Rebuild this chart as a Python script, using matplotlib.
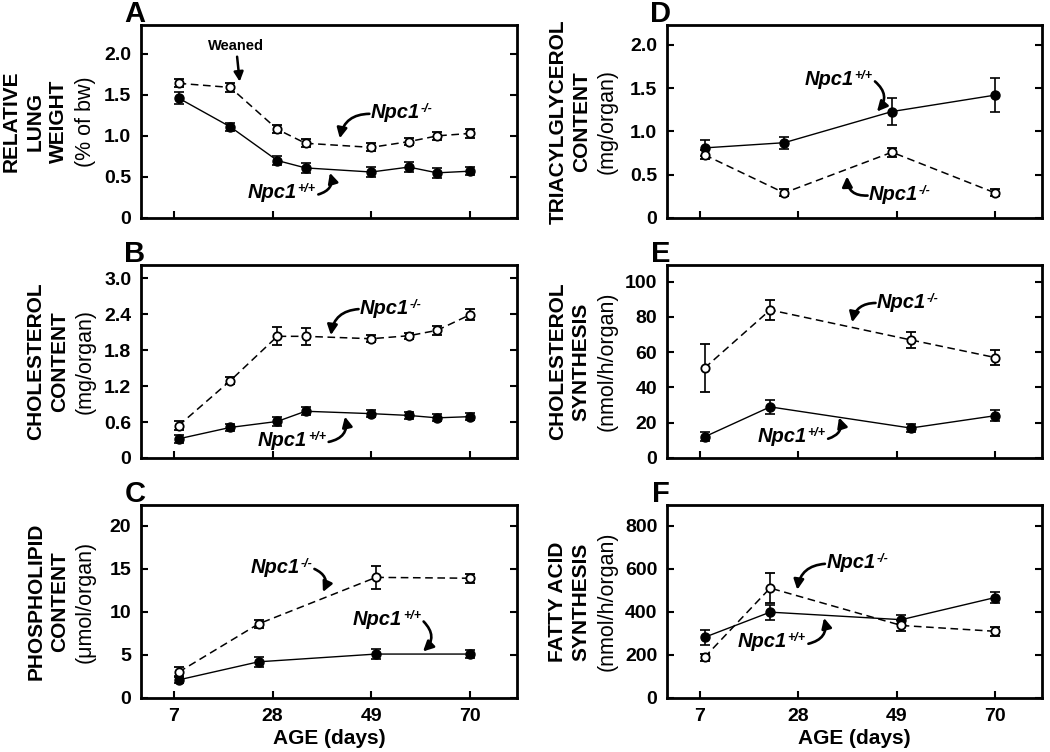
import matplotlib
matplotlib.use("Agg")
import matplotlib.pyplot as plt
from matplotlib.ticker import FuncFormatter

plt.rcParams['font.family'] = ['Liberation Sans', 'DejaVu Sans']
plt.rcParams['axes.linewidth'] = 2.0
plt.rcParams['xtick.direction'] = 'in'
plt.rcParams['ytick.direction'] = 'in'

# ---- values ----
age_ticks = [7, 28, 49, 70]

# A  relative lung weight
age_ab = [8, 19, 29, 35, 49, 57, 63, 70]
lung_ko = [1.64, 1.59, 1.08, 0.91, 0.86, 0.93, 1.00, 1.03]
lung_ko_err = [0.05, 0.05, 0.05, 0.05, 0.05, 0.04, 0.05, 0.05]
lung_wt = [1.46, 1.11, 0.70, 0.61, 0.56, 0.62, 0.55, 0.57]
lung_wt_err = [0.07, 0.05, 0.05, 0.06, 0.06, 0.06, 0.06, 0.05]

# B  cholesterol content
chol_ko = [0.54, 1.29, 2.03, 2.03, 1.99, 2.04, 2.13, 2.39]
chol_ko_err = [0.08, 0.06, 0.15, 0.14, 0.06, 0.05, 0.07, 0.09]
chol_wt = [0.32, 0.51, 0.61, 0.78, 0.74, 0.71, 0.67, 0.69]
chol_wt_err = [0.07, 0.06, 0.07, 0.07, 0.06, 0.06, 0.06, 0.06]

# C  phospholipid content
age_c = [8, 25, 50, 70]
pl_ko = [3.0, 8.6, 14.0, 13.9]
pl_ko_err = [0.6, 0.5, 1.3, 0.5]
pl_wt = [2.1, 4.2, 5.1, 5.1]
pl_wt_err = [0.4, 0.6, 0.6, 0.5]

# D  triacylglycerol content
age_d = [8, 25, 48, 70]
tg_ko = [0.73, 0.29, 0.76, 0.29]
tg_ko_err = [0.05, 0.04, 0.05, 0.04]
tg_wt = [0.81, 0.87, 1.23, 1.42]
tg_wt_err = [0.09, 0.07, 0.16, 0.20]

# E  cholesterol synthesis
age_e = [8, 22, 52, 70]
cs_ko = [51, 84, 67, 57]
cs_ko_err = [13.5, 5.5, 4.5, 4.5]
cs_wt = [12, 29, 17, 24]
cs_wt_err = [2.5, 4, 2.5, 3]

# F  fatty acid synthesis
age_f = [8, 22, 50, 70]
fa_ko = [189, 511, 337, 310]
fa_ko_err = [15, 70, 25, 22]
fa_wt = [282, 399, 364, 467]
fa_wt_err = [35, 35, 20, 25]


def series(ax, x, y, err, filled):
    if filled:
        ax.errorbar(x, y, yerr=err, color='k', lw=1.0, marker='o', ms=6.5,
                    mfc='k', mec='k', elinewidth=1.2, capsize=3.5, capthick=1.2, zorder=3)
    else:
        ax.errorbar(x, y, yerr=err, color='k', lw=1.1, ls=(0, (5, 3)), marker='o', ms=6,
                    mfc='white', mec='k', mew=1.3, elinewidth=1.2, capsize=3.5,
                    capthick=1.2, zorder=4)


def genotype(ax, xy, tip, sup, side, rad):
    t = ax.text(xy[0], xy[1], 'Npc1', fontsize=14.5, fontweight='bold', fontstyle='italic',
                ha='left', va='center')
    s = ax.annotate(sup, xy=(1.0, 1.0), xycoords=t, xytext=(0.5, 0),
                    textcoords='offset points', fontsize=9, fontweight='bold',
                    fontstyle='italic', ha='left', va='top')
    if side == 'left':
        start, coords = (-0.03, 0.45), t
    else:
        start, coords = (1.15, 0.4), (s, t)
    ax.annotate('', xy=tip, xycoords='data', xytext=start, textcoords=coords,
                arrowprops=dict(arrowstyle='-|>', lw=1.9, color='k',
                                connectionstyle='arc3,rad=%s' % rad,
                                shrinkA=0, shrinkB=0, mutation_scale=15))


def ylab(ax, bold, unit, off):
    ax.annotate(unit, xy=(0, 0.5), xycoords='axes fraction', xytext=(-off, 0),
                textcoords='offset pixels', rotation=90, ha='center', va='center',
                fontsize=15.5)
    n = bold.count('\n') + 1
    ax.annotate(bold, xy=(0, 0.5), xycoords='axes fraction',
                xytext=(-(off + 25 + 25 * (n - 1) / 2.0), 0), textcoords='offset pixels',
                rotation=90, ha='center', va='center', fontsize=15, fontweight='bold',
                linespacing=1.3)


def setup(ax, letter, ylim, yticks, fmt, bottom):
    ax.set_xlim(0, 80)
    ax.set_ylim(*ylim)
    ax.set_xticks(age_ticks)
    ax.set_yticks(yticks)
    ax.yaxis.set_major_formatter(FuncFormatter(fmt))
    ax.tick_params(axis='both', which='major', length=5, width=1.5, labelsize=14, pad=7,
                   right=True, top=False)
    for lab in ax.get_xticklabels() + ax.get_yticklabels():
        lab.set_fontweight('bold')
    if bottom:
        ax.set_xlabel('AGE (days)', fontsize=15, fontweight='bold', labelpad=3)
    else:
        ax.tick_params(axis='x', labelbottom=False)
    ax.annotate(letter, xy=(0, 1), xycoords='axes fraction', xytext=(-6, 3),
                textcoords='offset pixels', ha='center', va='baseline', fontsize=21,
                fontweight='bold')


def f1(v, p):
    return '0' if v == 0 else '%.1f' % v


def f0(v, p):
    return '%d' % v


W, H = 1050.0, 752.0
fig = plt.figure(figsize=(10.5, 7.52), dpi=100)
rows = [(25, 218), (265, 458), (505, 698)]
cols = [(141, 376), (667, 375)]
axs = {}
for r, (top, bot) in enumerate(rows):
    for c, (left, wid) in enumerate(cols):
        axs[(r, c)] = fig.add_axes([left / W, 1 - bot / H, wid / W, (bot - top) / H])

# A
ax = axs[(0, 0)]
series(ax, age_ab, lung_ko, lung_ko_err, False)
series(ax, age_ab, lung_wt, lung_wt_err, True)
setup(ax, 'A', (0, 2.35), [0, 0.5, 1.0, 1.5, 2.0], f1, False)
ylab(ax, 'RELATIVE\nLUNG\nWEIGHT', '(% of bw)', 56)
genotype(ax, (48.9, 1.28), (42.3, 0.97), '-/-', 'left', 0.4)
genotype(ax, (22.7, 0.31), (40.2, 0.55), '+/+', 'right', 0.5)
ax.annotate('Weaned', xy=(21, 1.66), xytext=(20.2, 2.10), ha='center', va='center',
            fontsize=10.5, fontweight='bold',
            arrowprops=dict(arrowstyle='-|>', lw=1.8, color='k', shrinkA=1, shrinkB=0,
                            mutation_scale=14))

# B
ax = axs[(1, 0)]
series(ax, age_ab, chol_ko, chol_ko_err, False)
series(ax, age_ab, chol_wt, chol_wt_err, True)
setup(ax, 'B', (0, 3.22), [0, 0.6, 1.2, 1.8, 2.4, 3.0], f1, False)
ylab(ax, 'CHOLESTEROL\nCONTENT', '(mg/organ)', 56)
genotype(ax, (46.6, 2.50), (40.4, 2.05), '-/-', 'left', 0.4)
genotype(ax, (24.9, 0.30), (43.4, 0.69), '+/+', 'right', 0.5)

# C
ax = axs[(2, 0)]
series(ax, age_c, pl_ko, pl_ko_err, False)
series(ax, age_c, pl_wt, pl_wt_err, True)
setup(ax, 'C', (0, 22.4), [0, 5, 10, 15, 20], f0, True)
ylab(ax, 'PHOSPHOLIPID\nCONTENT', '(\u03bcmol/organ)', 56)
genotype(ax, (23.4, 15.2), (38.7, 12.3), '-/-', 'right', -0.5)
genotype(ax, (45.1, 9.1), (60.0, 5.4), '+/+', 'right', -0.5)

# D
ax = axs[(0, 1)]
series(ax, age_d, tg_ko, tg_ko_err, False)
series(ax, age_d, tg_wt, tg_wt_err, True)
setup(ax, 'D', (0, 2.23), [0, 0.5, 1.0, 1.5, 2.0], f1, False)
ylab(ax, 'TRIACYLGLYCEROL\nCONTENT', '(mg/organ)', 60)
genotype(ax, (29.3, 1.60), (44.8, 1.23), '+/+', 'right', -0.5)
genotype(ax, (43.1, 0.27), (38.4, 0.48), '-/-', 'left', -0.5)

# E
ax = axs[(1, 1)]
series(ax, age_e, cs_ko, cs_ko_err, False)
series(ax, age_e, cs_wt, cs_wt_err, True)
setup(ax, 'E', (0, 109.5), [0, 20, 40, 60, 80, 100], f0, False)
ylab(ax, 'CHOLESTEROL\nSYNTHESIS', '(nmol/h/organ)', 60)
genotype(ax, (44.8, 88.5), (39.5, 77), '-/-', 'left', 0.4)
genotype(ax, (19.3, 12), (36.7, 23), '+/+', 'right', 0.5)

# F
ax = axs[(2, 1)]
series(ax, age_f, fa_ko, fa_ko_err, False)
series(ax, age_f, fa_wt, fa_wt_err, True)
setup(ax, 'F', (0, 897), [0, 200, 400, 600, 800], f0, True)
ylab(ax, 'FATTY ACID\nSYNTHESIS', '(nmol/h/organ)', 60)
genotype(ax, (34.0, 628), (27.8, 503), '-/-', 'left', 0.4)
genotype(ax, (15.1, 261), (33.5, 372), '+/+', 'right', 0.5)

fig.savefig('out.png', dpi=100)
